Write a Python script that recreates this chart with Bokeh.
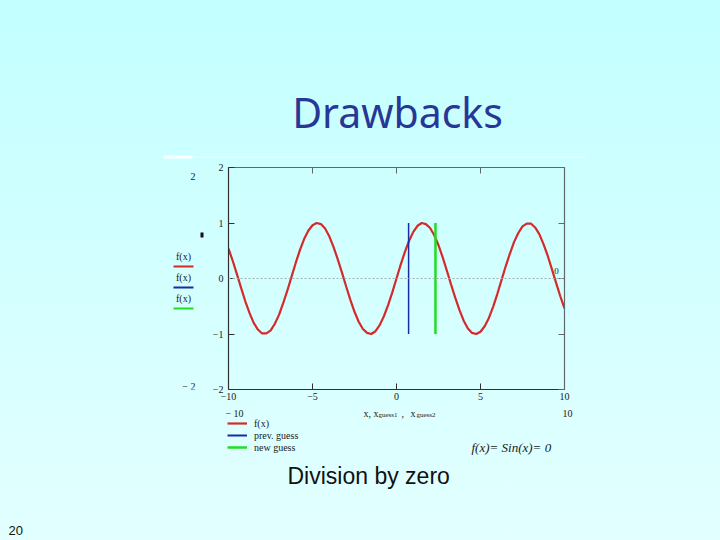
from bokeh.plotting import figure
from bokeh.layouts import column, row
from bokeh.models import (Range1d, LinearAxis, FixedTicker, CustomJSTickFormatter, Span,
                          Label, BoxAnnotation, Legend, LegendItem)
from bokeh.embed import file_html
from bokeh.resources import INLINE

# ---- data ----
x_vals = [-10.0, -9.75, -9.5, -9.25, -9.0, -8.75, -8.5, -8.25, -8.0, -7.75,
          -7.5, -7.25, -7.0, -6.75, -6.5, -6.25, -6.0, -5.75, -5.5, -5.25,
          -5.0, -4.75, -4.5, -4.25, -4.0, -3.75, -3.5, -3.25, -3.0, -2.75,
          -2.5, -2.25, -2.0, -1.75, -1.5, -1.25, -1.0, -0.75, -0.5, -0.25,
          0.0, 0.25, 0.5, 0.75, 1.0, 1.25, 1.5, 1.75, 2.0, 2.25,
          2.5, 2.75, 3.0, 3.25, 3.5, 3.75, 4.0, 4.25, 4.5, 4.75,
          5.0, 5.25, 5.5, 5.75, 6.0, 6.25, 6.5, 6.75, 7.0, 7.25,
          7.5, 7.75, 8.0, 8.25, 8.5, 8.75, 9.0, 9.25, 9.5, 9.75, 10.0]
f_vals = [0.54, 0.32, 0.08, -0.17, -0.41, -0.62, -0.80, -0.92, -0.99, -0.99,
          -0.94, -0.82, -0.66, -0.45, -0.22, 0.03, 0.28, 0.51, 0.71, 0.86,
          0.96, 1.00, 0.98, 0.90, 0.76, 0.57, 0.35, 0.11, -0.14, -0.38,
          -0.60, -0.78, -0.91, -0.98, -1.00, -0.95, -0.84, -0.68, -0.48, -0.25,
          0.00, 0.25, 0.48, 0.68, 0.84, 0.95, 1.00, 0.98, 0.91, 0.78,
          0.60, 0.38, 0.14, -0.11, -0.35, -0.57, -0.76, -0.90, -0.98, -1.00,
          -0.96, -0.86, -0.71, -0.51, -0.28, -0.03, 0.22, 0.45, 0.66, 0.82,
          0.94, 0.99, 0.99, 0.92, 0.80, 0.62, 0.41, 0.17, -0.08, -0.32, -0.54]
prev_guess = [0.72, 0.72]
new_guess = [2.32, 2.32]
guess_y = [-1, 1]
x_ticks = [-10, -5, 0, 5, 10]
y_ticks = [-2, -1, 0, 1, 2]
legend_labels = ["f(x)", "prev. guess", "new guess"]
zero_level = 0

RED, BLUE, GREEN = "#d42a2a", "#1a2aa0", "#22dd22"
SERIF = "Liberation Serif"


def panel(w, x0, y_top, h, y_bottom=None):
    """A decoration figure whose data coordinates equal page pixels."""
    if y_bottom is None:
        y_bottom = y_top + h
    f = figure(width=w, height=h, output_backend="svg", toolbar_location=None,
               x_range=Range1d(x0, x0 + w), y_range=Range1d(y_bottom, y_top),
               x_axis_location=None, y_axis_location=None,
               min_border=0, min_border_left=0, min_border_right=0,
               min_border_top=0, min_border_bottom=0)
    f.xgrid.visible = False
    f.ygrid.visible = False
    f.outline_line_color = None
    f.background_fill_color = None
    f.border_fill_color = None
    return f


def lab(f, text, X, Y, size, font=SERIF, color="#202020", align="left", style="normal"):
    # Y is the vertical middle of the text box
    f.add_layout(Label(x=X, y=Y, text=text, text_font=font, text_font_size=size,
                       text_color=color, text_align=align, text_baseline="middle",
                       text_font_style=style))


def bar(f, X0, X1, Y0, Y1, color, alpha=1.0):
    f.add_layout(BoxAnnotation(left=X0, right=X1, top=Y0, bottom=Y1,
                               fill_color=color, fill_alpha=alpha, line_alpha=0))


# ---------- top: slide title ----------
T = panel(720, 0, 0, 160)
lab(T, "Drawbacks", 397, 111, "41px", font="Noto Sans", color="#283796", align="center")
bar(T, 163, 585, 156, 157.5, "#ffffff", 0.55)
bar(T, 163, 192, 155, 158, "#ffffff", 0.9)

# ---------- left: Mathcad leftovers (frame aligned with the chart frame) ----------
L = panel(205, 0, 167, 248, y_bottom=389)
lab(L, "2", 195, 176, "10px", align="right")
lab(L, "\u2212 2", 195, 386, "10px", align="right")
bar(L, 200, 203, 232, 237, "#101010")
for i, c in enumerate([RED, BLUE, GREEN]):
    lab(L, "f(x)", 183, 256 + 21 * i, "10px", align="center")
    bar(L, 173, 193, 265 + 21 * i, 267 + 21 * i, c)

# ---------- centre: the chart ----------
C = figure(width=515, height=248, output_backend="svg", toolbar_location=None,
           x_range=Range1d(-10, 10), y_range=Range1d(-2, 2),
           x_axis_location=None, y_axis_location=None,
           min_border_left=23, min_border_right=156, min_border_top=7, min_border_bottom=19)
C.xgrid.visible = False
C.ygrid.visible = False
C.outline_line_color = None
C.background_fill_color = None
C.border_fill_color = None

fmt = CustomJSTickFormatter(code="return tick < 0 ? '\u2212' + Math.abs(tick) : tick.toString();")
blank = CustomJSTickFormatter(code="return '';")
bottom = LinearAxis(ticker=FixedTicker(ticks=x_ticks), formatter=fmt)
left = LinearAxis(ticker=FixedTicker(ticks=y_ticks), formatter=fmt)
top = LinearAxis(ticker=FixedTicker(ticks=x_ticks), formatter=blank)
right = LinearAxis(ticker=FixedTicker(ticks=y_ticks), formatter=blank)
for ax, col in ((bottom, "#303030"), (left, "#303030"), (top, "#606868"), (right, "#606868")):
    ax.axis_line_color = col
    ax.axis_line_width = 1.2
    ax.major_tick_line_color = col
    ax.major_tick_in = 6
    ax.major_tick_out = 0
    ax.minor_tick_line_color = None
    ax.major_label_text_font = SERIF
    ax.major_label_text_font_size = "10px"
    ax.major_label_text_color = "#202020"
    ax.major_label_standoff = 3
left.major_label_standoff = 5
for ax in (top, right):
    ax.major_label_text_font_size = "1px"
    ax.major_label_standoff = 0
C.add_layout(bottom, "below")
C.add_layout(left, "left")
C.add_layout(top, "above")
C.add_layout(right, "right")

C.add_layout(Span(location=zero_level, dimension="width", line_color="#a8b0b0",
                  line_dash="2 2", line_width=1))

r_curve = C.line(x_vals, f_vals, line_color=RED, line_width=2.2)
r_prev = C.line(prev_guess, guess_y, line_color=BLUE, line_width=1.5)
r_new = C.line(new_guess, guess_y, line_color=GREEN, line_width=2.5)
C.add_layout(Label(x=328, y=119, x_units="screen", y_units="screen", text="0",
                   text_font=SERIF, text_font_size="9px", text_color="#202020",
                   text_align="center", text_baseline="middle"))

# ---------- bottom: legend, axis title, slide text ----------
B = panel(720, 0, 408, 132)
lab(B, "\u2212 10", 234, 413, "10px", align="center")
lab(B, "10", 567, 413, "10px", align="center")
lab(B, "x, x", 363, 412.5, "10px")
lab(B, "guess1", 378, 414.5, "7px")
lab(B, ",", 401, 412.5, "10px")
lab(B, "x", 410, 412.5, "10px")
lab(B, "guess2", 416, 414.5, "7px")

# legend swatches (drawn off-frame, only their legend entries are visible)
k_curve = B.line([-50, -40], [600, 600], line_color=RED, line_width=2.2)
k_prev = B.line([-50, -40], [600, 600], line_color=BLUE, line_width=2)
k_new = B.line([-50, -40], [600, 600], line_color=GREEN, line_width=2.5)
legend = Legend(items=[LegendItem(label=legend_labels[0], renderers=[k_curve]),
                       LegendItem(label=legend_labels[1], renderers=[k_prev]),
                       LegendItem(label=legend_labels[2], renderers=[k_new])],
                location=(227, 540 - 453), orientation="vertical",
                glyph_width=20, glyph_height=12, label_height=12, label_width=20,
                spacing=0, padding=0, margin=0, label_standoff=7,
                border_line_color=None, background_fill_alpha=0,
                label_text_font=SERIF, label_text_font_size="10px",
                label_text_color="#202020")
B.add_layout(legend)

lab(B, "f(x)= Sin(x)= 0", 471, 446.5, "13px", style="italic")
lab(B, "Division by zero", 287, 475, "23px", font="Liberation Sans", color="#111111")
lab(B, "20", 8, 529.5, "13px", font="Liberation Sans", color="#111111")

page = column(T, row(L, C, spacing=0), B, spacing=0,
              styles={"background": "linear-gradient(to bottom, #c3ffff 0%, #e3ffff 100%)"})

open("out.html", "w").write(file_html(page, INLINE))
